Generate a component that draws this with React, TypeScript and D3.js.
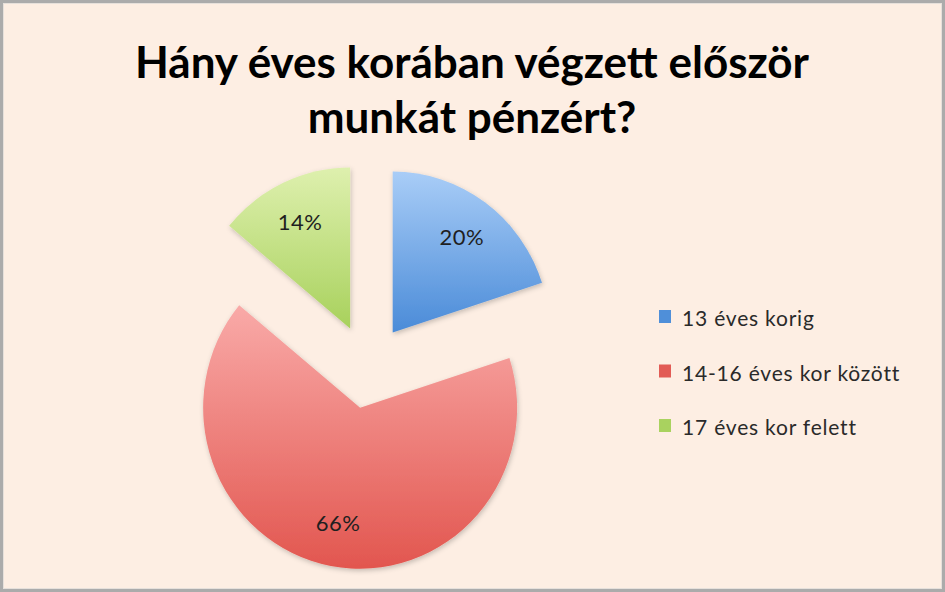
import React, { useEffect, useRef } from "react";
import * as d3 from "d3";

const categories = ["13 éves korig", "14-16 éves kor között", "17 éves kor felett"];
const values = [20, 66, 14];
const valueLabels = ["20%", "66%", "14%"];
const titleLines = ["Hány éves korában végzett először", "munkát pénzért?"];
const colorsTop = ["#a9cdf7", "#f9aaa8", "#def0ae"];
const colorsBottom = ["#4a8bd8", "#e2564f", "#a8d15c"];
const swatch = ["#4f8fd9", "#e25b55", "#a9d25f"];

const W = 945;
const H = 592;

export default function App() {
  const ref = useRef<SVGSVGElement>(null);
  useEffect(() => {
    document.body.style.margin = "0";
    const svg = d3.select(ref.current);
    svg.selectAll("*").remove();
    const font = "Lato, 'Open Sans', sans-serif";

    svg.append("rect").attr("x", 0).attr("y", 0).attr("width", W).attr("height", H).attr("fill", "#fdeee3");
    svg.append("rect").attr("x", 1.5).attr("y", 1.5).attr("width", W - 3).attr("height", H - 3)
      .attr("fill", "none").attr("stroke", "#ababab").attr("stroke-width", 3);
    svg.append("rect").attr("x", 3.5).attr("y", 3.5).attr("width", W - 7).attr("height", H - 7)
      .attr("fill", "none").attr("stroke", "#e6e0db").attr("stroke-width", 1);

    const defs = svg.append("defs");
    const filt = defs.append("filter").attr("id", "sh").attr("x", "-20%").attr("y", "-20%").attr("width", "140%").attr("height", "140%");
    filt.append("feDropShadow").attr("dx", 1).attr("dy", 2).attr("stdDeviation", 2.5).attr("flood-color", "#000").attr("flood-opacity", 0.22);

    categories.forEach((_, i) => {
      const g = defs.append("linearGradient").attr("id", "g" + i).attr("x1", 0).attr("y1", 0).attr("x2", 0).attr("y2", 1);
      g.append("stop").attr("offset", "0%").attr("stop-color", colorsTop[i]);
      g.append("stop").attr("offset", "100%").attr("stop-color", colorsBottom[i]);
    });

    // title
    const title = svg.append("text").attr("font-family", font).attr("font-weight", 700).attr("font-size", 44)
      .attr("fill", "#000").attr("text-anchor", "middle");
    titleLines.forEach((t, i) => {
      title.append("tspan").attr("x", 472).attr("y", 78 + i * 55).text(t);
    });

    const cx = 368, cy = 366.5, r = 161, explode = 42;
    const pie = d3.pie<number>().sort(null).value((d) => d);
    const arcs = pie(values);
    const arc = d3.arc<d3.PieArcDatum<number>>().innerRadius(0).outerRadius(r);

    const pg = svg.append("g");
    arcs.forEach((a, i) => {
      const mid = (a.startAngle + a.endAngle) / 2;
      const ox = cx + explode * Math.sin(mid);
      const oy = cy - explode * Math.cos(mid);
      const g = pg.append("g").attr("transform", `translate(${ox},${oy})`);
      g.append("path").attr("d", arc(a) as string).attr("transform", "scale(0.975,1)")
        .attr("fill", `url(#g${i})`).attr("filter", "url(#sh)");
      const lr = r * 0.73;
      g.append("text").attr("x", lr * Math.sin(mid)).attr("y", -lr * Math.cos(mid) + 8)
        .attr("text-anchor", "middle").attr("font-family", font).attr("font-size", 22)
        .attr("letter-spacing", 0.5).attr("fill", "#1f1f1f")
        .text(valueLabels[i]);
    });

    const lg = svg.append("g");
    categories.forEach((c, i) => {
      const y = 326 + i * 54.5;
      lg.append("rect").attr("x", 659).attr("y", y - 16).attr("width", 12).attr("height", 13).attr("fill", swatch[i]);
      lg.append("text").attr("x", 682).attr("y", y).attr("font-family", font).attr("font-size", 21)
        .attr("letter-spacing", 0.8).attr("fill", "#2a2a2a").text(c);
    });
  }, []);
  return <svg ref={ref} width={W} height={H} style={{ display: "block" }} />;
}
